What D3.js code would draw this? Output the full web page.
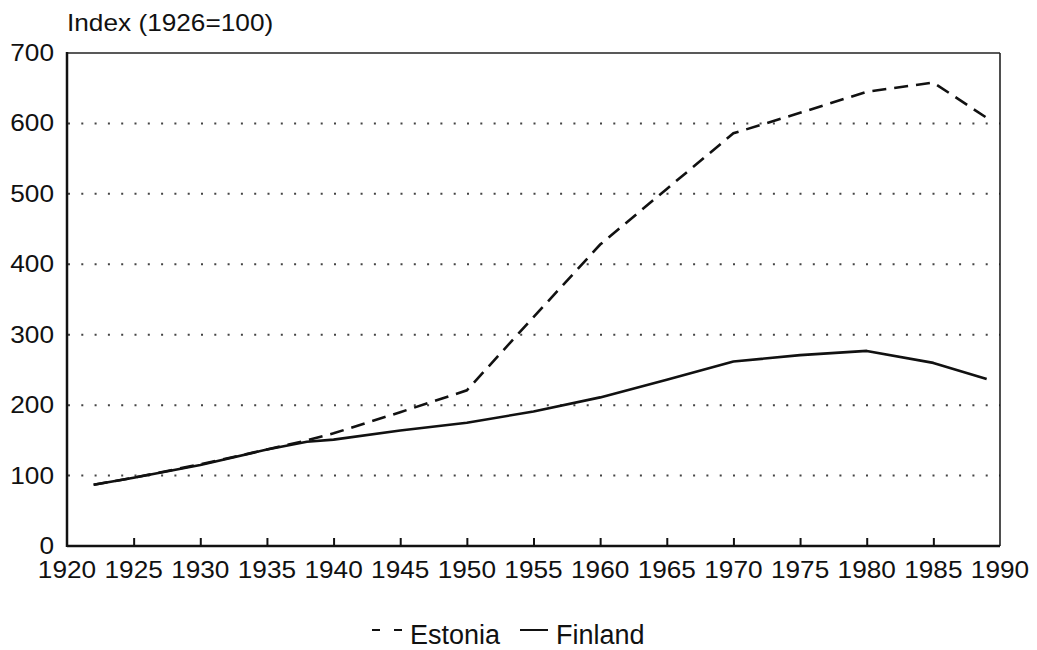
<!DOCTYPE html>
<html>
<head>
<meta charset="utf-8">
<script src="https://cdn.jsdelivr.net/npm/d3@7"></script>
<style>
  body { margin: 0; background: #fff; }
  svg { display: block; }
  .tick-label { font-family: "Liberation Sans", Arial, sans-serif; font-size: 23px; fill: #111; }
  .legend-label { font-family: "Liberation Sans", Arial, sans-serif; font-size: 27px; fill: #111; }
</style>
</head>
<body>
<div id="chart"></div>
<script>
// chart data
const years   = [1922, 1925, 1930, 1935, 1938, 1940, 1945, 1950, 1955, 1960, 1965, 1970, 1975, 1980, 1985, 1989];
const estonia = [87, 97, 116, 137, 150, 160, 190, 221, 325, 428, 507, 586, 615, 645, 658, 608];
const finland = [87, 97, 115, 137, 148, 151, 164, 175, 191, 211, 236, 262, 271, 277, 260, 237];
const xTicks  = [1920, 1925, 1930, 1935, 1940, 1945, 1950, 1955, 1960, 1965, 1970, 1975, 1980, 1985, 1990];
const yTicks  = [0, 100, 200, 300, 400, 500, 600, 700];
const gridValues = [100, 200, 300, 400, 500, 600];
const yTitle = 'Index (1926=100)';
const seriesNames = ['Estonia', 'Finland'];

const width = 1037, height = 650;
const plot = {left: 67, right: 1000, top: 53, bottom: 546};
const stretch = 1.14; // the scanned type is wider than it is tall

const svg = d3.select('#chart').append('svg')
  .attr('width', width)
  .attr('height', height);

const x = d3.scaleLinear().domain([1920, 1990]).range([plot.left, plot.right]);
const y = d3.scaleLinear().domain([0, 700]).range([plot.bottom, plot.top]);

const place = (px, py) => 'translate(' + [px, py] + ') scale(' + stretch + ',1)';

// dotted grid
svg.append('g').attr('class', 'grid')
  .selectAll('line')
  .data(gridValues)
  .enter()
  .append('line')
  .attr('x1', plot.left + 1)
  .attr('x2', plot.right)
  .attr('y1', d => y(d))
  .attr('y2', d => y(d))
  .style('stroke', '#444')
  .style('stroke-width', 2)
  .style('stroke-dasharray', '2,11.3');

// frame: top and right thinner
svg.append('line')
  .attr('x1', plot.left).attr('x2', plot.right)
  .attr('y1', plot.top).attr('y2', plot.top)
  .style('stroke', '#222').style('stroke-width', 1.6);
svg.append('line')
  .attr('x1', plot.right).attr('x2', plot.right)
  .attr('y1', plot.top).attr('y2', plot.bottom)
  .style('stroke', '#222').style('stroke-width', 1.6);

// x axis with inward ticks
const xAxis = d3.axisBottom(x).tickValues(xTicks).tickSize(-8).tickFormat('');
const gx = svg.append('g')
  .attr('class', 'axis axis--x')
  .attr('transform', 'translate(0,' + plot.bottom + ')')
  .call(xAxis);
gx.select('.domain').attr('d', 'M' + plot.left + ',0H' + plot.right)
  .style('stroke', '#111').style('stroke-width', 2.5);
gx.selectAll('.tick line').style('stroke', '#111').style('stroke-width', 2);
gx.selectAll('.tick').filter(d => d === 1920 || d === 1990).select('line').remove();

svg.append('g').selectAll('text')
  .data(xTicks)
  .enter()
  .append('text')
  .attr('class', 'tick-label')
  .attr('transform', d => place(x(d), 578))
  .attr('text-anchor', 'middle')
  .text(d => d);

// y axis line
svg.append('line')
  .attr('x1', plot.left).attr('x2', plot.left)
  .attr('y1', plot.top - 1).attr('y2', plot.bottom + 1)
  .style('stroke', '#111').style('stroke-width', 2.5);

svg.append('g').selectAll('text')
  .data(yTicks)
  .enter()
  .append('text')
  .attr('class', 'tick-label')
  .attr('transform', d => place(54, y(d) + 8))
  .attr('text-anchor', 'end')
  .text(d => d);

svg.append('text')
  .attr('class', 'tick-label')
  .attr('transform', place(67, 31))
  .text(yTitle);

// series
const line = d3.line()
  .x((d, i) => x(years[i]))
  .y(d => y(d));

svg.append('path')
  .datum(finland)
  .attr('d', line)
  .style('fill', 'none')
  .style('stroke', '#111')
  .style('stroke-width', 2.6)
  .style('stroke-linejoin', 'round');

svg.append('path')
  .datum(estonia)
  .attr('d', line)
  .style('fill', 'none')
  .style('stroke', '#111')
  .style('stroke-width', 2.6)
  .style('stroke-dasharray', '14,8');

// legend
const legend = svg.append('g').attr('class', 'legend');
legend.append('line')
  .attr('x1', 372).attr('x2', 402)
  .attr('y1', 630).attr('y2', 630)
  .style('stroke', '#111').style('stroke-width', 2)
  .style('stroke-dasharray', '8,14');
legend.append('text')
  .attr('class', 'legend-label')
  .attr('x', 410).attr('y', 644)
  .text(seriesNames[0]);
legend.append('line')
  .attr('x1', 520).attr('x2', 548)
  .attr('y1', 630).attr('y2', 630)
  .style('stroke', '#111').style('stroke-width', 2);
legend.append('text')
  .attr('class', 'legend-label')
  .attr('x', 556).attr('y', 644)
  .text(seriesNames[1]);
</script>
</body>
</html>
